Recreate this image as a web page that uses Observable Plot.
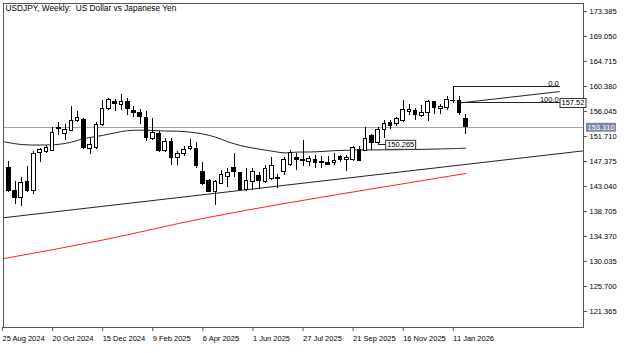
<!DOCTYPE html>
<html><head><meta charset="utf-8">
<script src="https://cdn.jsdelivr.net/npm/d3@7"></script>
<script src="https://cdn.jsdelivr.net/npm/@observablehq/plot@0.6"></script>
<style>
html,body{margin:0;padding:0;background:#fff;}
#chart svg{display:block;}
</style></head><body><div id="chart"></div>
<script>
// ---- data ----
const title = "USDJPY, Weekly:\u00a0 US Dollar vs Japanese Yen";
const firstWeek = "2024-08-25";
const open  = [144.3,146.28,142.3,141.0,143.85,142.2,148.88,149.05,149.28,153.22,152.1,152.63,154.36,154.6,149.5,149.63,153.67,156.45,157.7,157.25,157.7,156.1,155.87,154.95,151.25,152.2,149.16,150.78,147.9,148.64,149.5,149.58,145.52,143.96,142.05,143.5,144.7,146.2,145.35,142.35,143.8,144.82,143.78,144.37,144.5,145.52,146.85,147.9,147.72,147.33,147.6,147.33,147.03,147.03,148.07,147.55,147.72,149.33,149.28,151.76,150.6,152.8,154.08,153.8,154.36,156.0,156.1,155.3,155.87,157.72,156.45,156.57,157.9,157.83,154.83];
const high  = [146.6,147.3,143.86,144.55,146.5,149.05,149.6,150.1,153.2,154.1,153.8,156.86,156.0,154.8,151.4,154.1,158.0,158.3,158.2,158.99,158.3,156.9,156.45,156.0,154.8,152.6,151.3,151.4,149.1,149.9,151.2,150.7,147.25,144.2,144.1,145.9,146.1,148.7,145.55,146.2,146.2,145.55,146.7,148.12,145.2,148.1,149.3,148.76,151.07,148.3,148.47,148.2,148.2,148.76,148.5,148.47,150.0,149.9,153.2,152.1,153.3,154.5,154.5,155.0,158.0,157.26,156.56,157.0,158.0,157.85,157.3,158.6,160.33,158.6,155.5];
const low   = [143.9,142.0,140.0,139.5,141.97,141.65,147.2,148.7,149.06,151.9,151.07,152.5,154.1,149.5,148.6,149.5,153.4,156.3,156.0,156.27,155.3,155.0,153.8,150.9,151.07,148.9,149.0,146.6,146.7,148.2,149.3,146.1,143.2,142.0,139.75,143.3,142.9,144.65,142.3,142.1,142.3,142.6,143.6,144.1,142.64,145.0,146.5,145.87,146.45,146.45,146.16,146.2,146.7,146.73,147.2,145.6,147.4,147.33,149.06,149.2,150.265,151.4,153.0,153.4,154.2,155.4,154.4,155.0,154.25,155.6,155.6,156.27,157.4,155.4,152.06];
const close = [146.28,142.22,140.96,143.73,142.3,148.76,149.33,149.68,152.35,152.93,152.8,154.37,154.95,149.75,150.2,153.67,156.45,158.0,157.3,157.7,156.45,155.8,155.1,151.49,152.35,149.16,150.78,147.9,148.6,149.33,149.9,146.68,143.5,142.05,143.78,144.95,145.4,145.6,142.35,144.07,145.5,144.07,146.1,146.68,144.27,147.55,148.93,147.55,147.43,147.78,147.2,147.03,146.8,147.43,147.72,148.02,149.63,147.43,151.19,150.5,152.9,153.95,153.5,154.7,156.27,156.27,155.4,155.87,157.72,156.57,156.86,158.0,157.95,155.7,153.31];

// black moving-average curve, read at some weeks (week index from firstWeek)
const maWeek  = [0,3,6,9,11,13,16,18,20,23,26,28,30,32,34,36,38,40,42,44,45,47,50,53,56,59,62,66,70,74];
const maValue = [150.84,150.32,150.23,150.35,150.72,151.35,151.9,152.35,152.72,152.8,152.66,152.63,152.46,152.15,151.6,150.8,150.15,149.7,149.35,149.0,148.88,149.0,149.05,149.25,149.36,149.38,149.4,149.46,149.55,149.68];
// red moving-average curve
const redWeek  = [0,16,32,46,61,74];
const redValue = [130.5,133.75,137.5,140.27,142.98,145.3];
// hand-drawn trend line
const trendDate  = ["2024-08-25","2026-06-07"];
const trendValue = [137.6,149.25];
// fibonacci object
const fibLevels = [{level:"0.0", price:160.33},{level:"100.0", price:157.52}];
const fibStart = "2026-01-11", fibStart100 = "2026-01-18", fibEnd = "2026-05-10";
const fibDiagEnd = 159.5;
const lowLabel = {date:"2025-10-19", price:150.265, text:"150.265"};
const rightLabel = {price:157.52, text:"157.52"};
const bidPrice = 153.310;

const yTicks = [173.385,169.050,164.715,160.380,156.045,151.710,147.375,143.040,138.705,134.370,130.035,125.700,121.365];
const xTickLabels = ["25 Aug 2024","20 Oct 2024","15 Dec 2024","9 Feb 2025","6 Apr 2025","1 Jun 2025","27 Jul 2025","21 Sep 2025","16 Nov 2025","11 Jan 2026"];

// ---- build ----
const pd = d3.utcParse("%Y-%m-%d");
const d0 = pd(firstWeek);
const wk = i => d3.utcDay.offset(d0, 7 * i);
const candles = open.map((o, i) => ({date: wk(i), open: o, high: high[i], low: low[i], close: close[i]}));
const ma = maWeek.map((w, i) => ({date: wk(w), v: maValue[i]}));
const red = redWeek.map((w, i) => ({date: wk(w), v: redValue[i]}));
const trend = trendDate.map((d, i) => ({date: pd(d), v: trendValue[i]}));
const xTicks = xTickLabels.map(d3.utcParse("%d %b %Y"));

const DAY = 864e5, WEEK = 7 * DAY;
const xDomain = [new Date(+d0 + WEEK * 0.16), new Date(+d0 + WEEK * 92.8)];
const yDomain = [118.59, 174.772];

const font = "'Liberation Sans', Arial, sans-serif";
const crisp = "crispEdges";

const chart = Plot.plot({
  width: 627, height: 353,
  marginLeft: 3, marginRight: 44, marginTop: 3, marginBottom: 26,
  style: {fontFamily: font, fontSize: "7.5px", background: "#fff", color: "#000"},
  x: {type: "utc", domain: xDomain},
  y: {domain: yDomain},
  marks: [
    Plot.ruleY([bidPrice], {stroke: "#98a7ba", clip: true, shapeRendering: crisp}),
    Plot.line(red, {x: "date", y: "v", stroke: "#ff2020", strokeWidth: 1, curve: "monotone-x", clip: true}),
    Plot.line(trend, {x: "date", y: "v", stroke: "#222", strokeWidth: 1, clip: true}),
    Plot.line(ma, {x: "date", y: "v", stroke: "#222", strokeWidth: 1, curve: "catmull-rom", clip: true}),
    Plot.ruleX(candles, {x: "date", y1: "low", y2: "high", stroke: "#000", clip: true, shapeRendering: crisp}),
    Plot.rect(candles, {
      x1: d => new Date(+d.date - 2 * DAY), x2: d => new Date(+d.date + 2 * DAY),
      y1: "open", y2: "close",
      fill: d => d.close >= d.open ? "#fff" : "#000", stroke: "#000",
      clip: true, shapeRendering: crisp
    }),
    // fibonacci
    Plot.link(fibLevels, {x1: (d, i) => pd(i === 0 ? fibStart : fibStart100), x2: () => pd(fibEnd), y1: "price", y2: "price", stroke: "#222", shapeRendering: crisp}),
    Plot.link([0], {x1: () => pd(fibStart100), y1: () => fibLevels[1].price, x2: () => pd(fibEnd), y2: () => fibDiagEnd, stroke: "#222"}),
    Plot.text(fibLevels, {x: () => pd(fibEnd), y: "price", text: "level", textAnchor: "end", lineAnchor: "bottom", dx: -1, dy: -1, fill: "#000"}),
    // labels with boxes
    Plot.link([lowLabel], {x1: d => pd(d.date), x2: d => new Date(+pd(d.date) + WEEK * 1.2), y1: "price", y2: "price", stroke: "#222", shapeRendering: crisp}),
    Plot.text([lowLabel], {x: d => pd(d.date), y: "price", text: "text", textAnchor: "start", dx: 9, className: "boxw"}),
    // axes
    Plot.axisY({anchor: "right", ticks: yTicks, tickFormat: d3.format(".3f"), tickSize: 3, tickPadding: 3, stroke: "#555", fontSize: 7.5}),
    Plot.axisX({anchor: "bottom", ticks: xTicks, tickFormat: d3.utcFormat("%-d %b %Y"), tickSize: 4, tickPadding: 4, textAnchor: "start", stroke: "#555", fontSize: 7.5}),
    Plot.frame({stroke: "#555", shapeRendering: crisp}),
    Plot.text([rightLabel], {frameAnchor: "right", y: "price", text: "text", textAnchor: "start", dx: -22, className: "boxw"}),
    Plot.text([bidPrice], {frameAnchor: "right", y: d => d, text: d => d3.format(".3f")(d), textAnchor: "start", dx: 4, fill: "#fff", className: "boxb"}),
    Plot.text([title], {frameAnchor: "top-left", text: d => d, dx: 2, dy: 2, lineAnchor: "top", fontSize: 8.3})
  ]
});
document.getElementById("chart").appendChild(chart);

function boxify(cls, fill, stroke) {
  chart.querySelectorAll(`g.${cls} text`).forEach(t => {
    const b = t.getBBox();
    const r = document.createElementNS("http://www.w3.org/2000/svg", "rect");
    r.setAttribute("x", Math.round(b.x - 2) + 0.5);
    r.setAttribute("y", Math.round(b.y) + 0.5);
    r.setAttribute("width", Math.round(b.width + 3));
    r.setAttribute("height", Math.round(b.height));
    r.setAttribute("fill", fill);
    r.setAttribute("stroke", stroke);
    if (t.getAttribute("transform")) r.setAttribute("transform", t.getAttribute("transform"));
    t.parentNode.insertBefore(r, t);
  });
}
boxify("boxw", "#fff", "#333");
boxify("boxb", "#7b8aa1", "none");
</script></body></html>
